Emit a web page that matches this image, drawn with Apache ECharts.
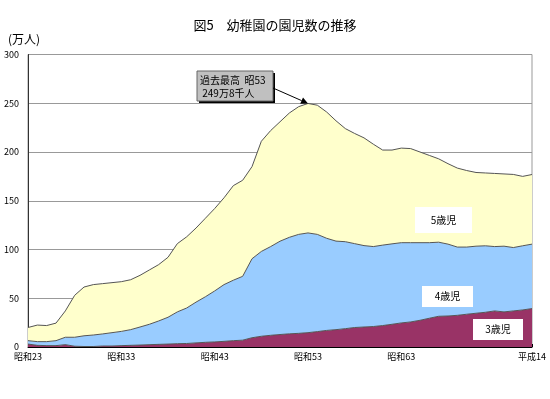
<!DOCTYPE html>
<html>
<head>
<meta charset="utf-8">
<script src="https://cdn.jsdelivr.net/npm/echarts@6/dist/echarts.min.js"></script>
<style>
html, body { margin: 0; padding: 0; background: #fff; }
#echarts { width: 550px; height: 399px; }
</style>
</head>
<body>
<div id="echarts"></div>
<script>
// 年次 (昭和23年〜平成14年)
var years = ['昭和23','昭和24','昭和25','昭和26','昭和27','昭和28','昭和29','昭和30','昭和31','昭和32',
	'昭和33','昭和34','昭和35','昭和36','昭和37','昭和38','昭和39','昭和40','昭和41','昭和42',
	'昭和43','昭和44','昭和45','昭和46','昭和47','昭和48','昭和49','昭和50','昭和51','昭和52',
	'昭和53','昭和54','昭和55','昭和56','昭和57','昭和58','昭和59','昭和60','昭和61','昭和62',
	'昭和63','平成元','平成2','平成3','平成4','平成5','平成6','平成7','平成8','平成9',
	'平成10','平成11','平成12','平成13','平成14'];

// 園児数 (万人)
var age3 = [3.0,1.7,1.4,1.4,2.4,0.8,0.5,0.5,1.0,1.0,
	1.4,1.7,2.0,2.4,2.7,3.0,3.4,3.6,4.2,4.8,
	5.2,5.8,6.5,7.0,9.5,11.0,12.0,12.8,13.5,14.0,
	14.7,15.8,17.0,17.8,18.8,20.0,20.5,21.0,22.0,23.3,
	24.7,25.7,27.4,29.5,31.5,31.8,32.5,33.6,34.6,35.6,
	37.0,36.0,37.0,38.0,39.4];
var age4 = [3.5,3.8,4.1,5.1,7.6,9.2,11.0,11.8,12.4,13.7,
	14.6,16.1,18.5,20.9,24.0,27.5,32.6,36.4,41.8,46.7,
	52.3,58.2,62.0,65.5,81.0,87.0,91.0,95.7,99.0,101.5,
	102.3,99.7,94.5,90.8,89.2,86.0,83.5,82.0,82.5,82.5,
	82.3,81.3,79.6,77.5,76.0,73.7,70.0,68.9,68.8,68.2,
	66.0,67.4,65.0,65.8,66.1];
var age5 = [13.5,17.0,16.5,18.0,27.0,43.0,50.0,51.7,51.6,51.3,
	51.0,51.2,53.0,55.7,57.8,61.5,70.0,73.0,76.0,80.5,
	84.5,89.0,97.0,98.5,94.5,113.0,119.0,122.5,127.5,131.0,
	132.8,132.5,129.5,123.4,116.0,113.0,110.5,105.0,97.5,96.2,
	97.0,96.5,93.0,89.5,85.5,82.5,81.0,78.5,75.6,74.7,
	75.0,74.1,75.0,71.2,71.4];

var labelIdx = [0, 10, 20, 30, 40, 54];
var peakIdx = 30;
var peakVal = 249.8;

var FONT = "'Noto Sans CJK JP', sans-serif";

function areaSeries(name, data, color){
	return {
		name: name,
		type: 'line',
		stack: 'total',
		data: data,
		symbol: 'none',
		smooth: false,
		lineStyle: { color: '#555', width: 1 },
		areaStyle: { color: color, opacity: 1 },
		itemStyle: { color: color }
	};
}

function boxLabel(x, y, w, h, text){
	return [{
		type: 'rect',
		shape: { x: x, y: y, width: w, height: h },
		style: { fill: '#fff' },
		z: 100
	}, {
		type: 'text',
		x: x + w / 2,
		y: y + h / 2,
		style: { text: text, fill: '#000', font: '10px ' + FONT, align: 'center', verticalAlign: 'middle' },
		z: 101
	}];
}

var myChart = echarts.init(document.getElementById('echarts'));
var option = {
	animation: false,
	backgroundColor: '#fff',
	textStyle: { fontFamily: FONT },
	title: [{
		text: '図5　幼稚園の園児数の推移',
		left: 'center',
		top: 14,
		textStyle: { fontSize: 13, fontWeight: 'normal', color: '#000', fontFamily: FONT }
	}, {
		text: '(万人)',
		left: 3,
		top: 28,
		textStyle: { fontSize: 12, fontWeight: 'normal', color: '#000', fontFamily: FONT }
	}],
	grid: {
		left: 28,
		right: 18,
		top: 54.5,
		bottom: 52,
		show: true,
		borderColor: '#999',
		borderWidth: 1
	},
	xAxis: {
		type: 'category',
		boundaryGap: false,
		data: years,
		axisLine: { lineStyle: { color: '#000', width: 1 } },
		axisTick: {
			show: true,
			inside: true,
			length: 3,
			interval: 0,
			lineStyle: { color: '#000' }
		},
		axisLabel: {
			color: '#000',
			fontSize: 9,
			fontFamily: FONT,
			margin: 5,
			showMinLabel: true,
			showMaxLabel: true,
			interval: function(idx){ return labelIdx.indexOf(idx) >= 0; }
		},
		splitLine: { show: false }
	},
	yAxis: {
		type: 'value',
		min: 0,
		max: 300,
		interval: 50,
		axisLine: { show: true, lineStyle: { color: '#333' } },
		axisTick: { show: false },
		axisLabel: { color: '#000', fontSize: 9, fontFamily: FONT, margin: 9 },
		splitLine: { lineStyle: { color: '#999', width: 1 } }
	},
	series: [
		areaSeries('3歳児', age3, '#993366'),
		areaSeries('4歳児', age4, '#99CCFF'),
		areaSeries('5歳児', age5, '#FFFFCC')
	]
};
myChart.setOption(option);

// 注記 (過去最高) と凡例ラベル
var peak = myChart.convertToPixel({ xAxisIndex: 0, yAxisIndex: 0 }, [peakIdx, peakVal]);
var bx = 197, by = 71, bw = 76, bh = 30;
var sx = bx + bw, sy = by + 17;
var ang = Math.atan2(peak[1] - sy, peak[0] - sx);
var ah = 7, aw = 3.5;
var tipX = peak[0], tipY = peak[1];
var baseX = tipX - ah * Math.cos(ang), baseY = tipY - ah * Math.sin(ang);
var graphics = [
	{ type: 'rect', shape: { x: bx + 2, y: by + 2, width: bw, height: bh }, style: { fill: '#000' }, z: 100 },
	{ type: 'rect', shape: { x: bx, y: by, width: bw, height: bh }, style: { fill: '#C0C0C0', stroke: '#666', lineWidth: 1 }, z: 101 },
	{ type: 'text', x: bx + 3, y: by + 3, style: { text: '過去最高  昭53\n 249万8千人', fill: '#000', font: '10px ' + FONT, lineHeight: 13 }, z: 102 },
	{ type: 'line', shape: { x1: sx, y1: sy, x2: baseX, y2: baseY }, style: { stroke: '#000', lineWidth: 1 }, z: 102 },
	{ type: 'polygon', shape: { points: [
		[tipX, tipY],
		[baseX + aw * Math.sin(ang), baseY - aw * Math.cos(ang)],
		[baseX - aw * Math.sin(ang), baseY + aw * Math.cos(ang)]
	] }, style: { fill: '#000' }, z: 102 }
];
graphics = graphics
	.concat(boxLabel(415, 207, 57, 26, '5歳児'))
	.concat(boxLabel(422, 286, 51, 21, '4歳児'))
	.concat(boxLabel(473, 319, 50, 21, '3歳児'));
myChart.setOption({ graphic: graphics });
</script>
</body>
</html>
